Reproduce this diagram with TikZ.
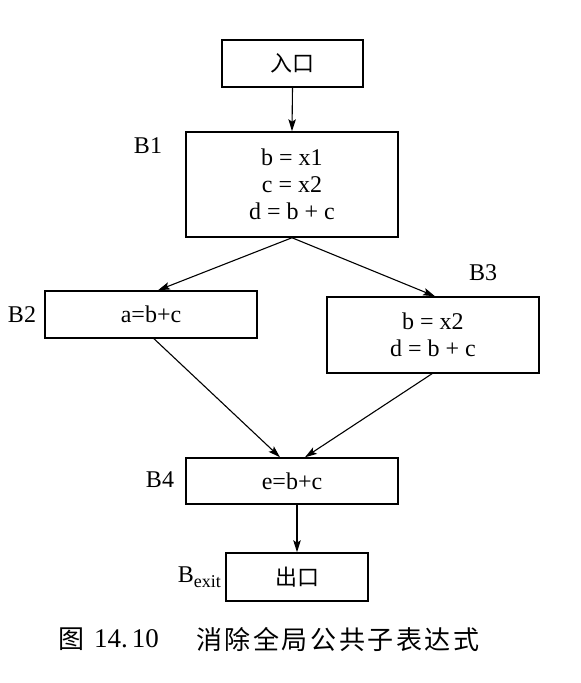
\documentclass[tikz,border=0pt]{standalone}
\usepackage{fontspec}
\setmainfont{Liberation Serif}
\newfontfamily\cjk{Noto Sans CJK SC}
\newfontfamily\cjkcap[LetterSpace=10]{Noto Sans CJK SC}
\usetikzlibrary{arrows.meta,calc}
\tikzset{
  blockbox/.style={draw, line width=1.5pt, inner sep=0pt, align=center,
    font=\fontsize{24}{27}\selectfont},
  blocklabel/.style={inner sep=0pt, font=\fontsize{24}{27}\selectfont},
  flow/.style={line width=1.1pt, -{Stealth[length=12pt,width=7.5pt,inset=2.5pt]}},
  captext/.style={inner sep=0pt, font=\fontsize{26}{30}\selectfont}
}
\begin{document}
\begin{tikzpicture}[x=1pt,y=-1pt]
\useasboundingbox (0,0) rectangle (581,683);
% blocks
\node[blockbox, minimum width=141pt, minimum height=47pt] (entry) at (292.5,63.5) {\cjk\fontsize{22}{24}\selectfont 入口};
\node[blockbox, minimum width=212pt, minimum height=105pt] (B1) at (292,184.5) {b = x1\\c = x2\\d = b + c};
\node[blockbox, minimum width=212pt, minimum height=47pt] (B2) at (151,314.5) {a=b+c};
\node[blockbox, minimum width=212pt, minimum height=76pt] (B3) at (433,335) {b = x2\\d = b + c};
\node[blockbox, minimum width=212pt, minimum height=46pt] (B4) at (292,481) {e=b+c};
\node[blockbox, minimum width=142pt, minimum height=48pt] (exit) at (297,577) {\cjk\fontsize{22}{24}\selectfont 出口};
% labels
\node[blocklabel] (lB1) at (148,146) {B1};
\node[blocklabel] (lB2) at (22,315) {B2};
\node[blocklabel] (lB3) at (483,273) {B3};
\node[blocklabel] (lB4) at (160,480) {B4};
\node[blocklabel, anchor=east] (lBexit) at (221,577) {B\raisebox{-5pt}{\fontsize{18}{18}\selectfont exit}};
% connectors
\draw[flow] (entry.south) -- (B1.north);
\draw[flow] (B1.south) -- ([xshift=7pt]B2.north);
\draw[flow] (B1.south) -- ([xshift=2pt]B3.north);
\draw[flow] ([xshift=3pt]B2.south) -- ([xshift=-12pt]B4.north);
\draw[flow] ([xshift=-1pt]B3.south) -- ([xshift=13pt]B4.north);
\draw[flow] ([xshift=5pt]B4.south) -- (exit.north);
% caption
\node[captext, anchor=west] (capA) at (58,639) {\cjk 图};
\node[captext, anchor=west, font=\fontsize{27}{30}\selectfont] (capB) at (94,639) {14.\hspace{4pt}10};
\node[captext, anchor=west] (capC) at (196,639) {\cjkcap 消除全局公共子表达式};
\end{tikzpicture}
\end{document}
